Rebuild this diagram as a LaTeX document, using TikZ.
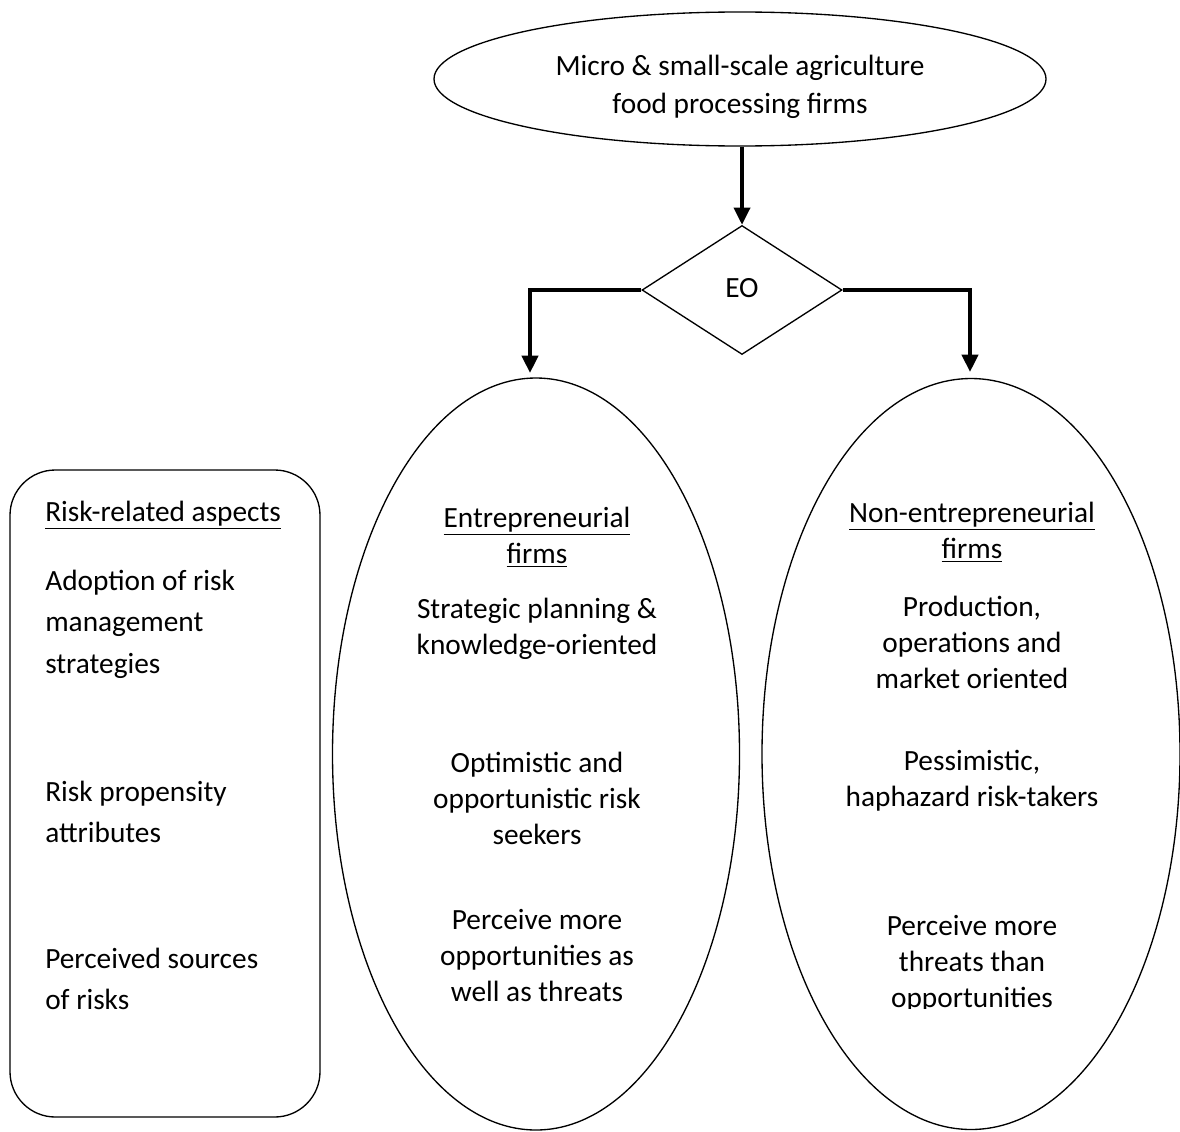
\documentclass[tikz,border=0pt]{standalone}
\usepackage{fontspec}
\setmainfont{Carlito}
\usetikzlibrary{shapes.geometric,arrows.meta}
\begin{document}
\begin{tikzpicture}[x=0.75pt,y=-0.75pt,
  outline/.style={draw=black,line width=1pt,inner sep=0pt},
  flow/.style={draw=black,line width=3pt,-{Triangle[length=13pt,width=12pt]}},
  txt/.style={align=center,inner sep=0pt,font=\fontsize{22}{27}\selectfont},
  lefttxt/.style={align=left,anchor=west,inner sep=0pt,font=\fontsize{22}{31}\selectfont}]
\useasboundingbox (0,0) rectangle (1180,1131);

% shapes
\node[outline,ellipse,minimum width=612*0.75pt,minimum height=134*0.75pt] (top) at (740,79) {};
\node[outline,diamond,minimum width=200*0.75pt,minimum height=129*0.75pt,aspect=1.55] (eo) at (742,290) {};
\node[txt] (eolabel) at (742,288) {EO};
\node[outline,ellipse,minimum width=407*0.75pt,minimum height=752*0.75pt] (ent) at (536,754) {};
\node[outline,ellipse,minimum width=418*0.75pt,minimum height=751*0.75pt] (non) at (971,754) {};
\draw[line width=1pt,rounded corners=34pt] (10,470) rectangle (320,1117);

% arrow ends just above the two lower ellipses
\coordinate (entin) at (530,373);
\coordinate (nonin) at (970,372);

% connectors
\draw[flow] (top.south -| eo.north) -- (eo.north);
\draw[flow] (eo.west) -| (entin);
\draw[flow] (eo.east) -| (nonin);

% top ellipse text
\node[txt,font=\fontsize{22}{29}\selectfont] (toptext) at (740,87) {Micro \& small-scale agriculture\\food processing firms};

% left panel
\node[lefttxt] (lhead) at (45,515) {\underline{Risk-related aspects}};
\node[lefttxt] (l1) at (45,624) {Adoption of risk\\management\\strategies};
\node[lefttxt] (l2) at (45,812) {Risk propensity\\attributes};
\node[lefttxt] (l3) at (45,979) {Perceived sources\\of risks};

% entrepreneurial firms
\node[txt] (ehead) at (537,537) {\underline{Entrepreneurial}\\\underline{firms}};
\node[txt] (e1) at (537,629) {Strategic planning \&\\knowledge-oriented};
\node[txt] (e2) at (537,798) {Optimistic and\\opportunistic risk\\seekers};
\node[txt] (e3) at (537,956) {Perceive more\\opportunities as\\well as threats};

% non-entrepreneurial firms
\node[txt] (nhead) at (972,532) {\underline{Non-entrepreneurial}\\\underline{firms}};
\node[txt] (n1) at (972,642) {Production,\\operations and\\market oriented};
\node[txt] (n2) at (972,781) {Pessimistic,\\haphazard risk-takers};
% last block is cut off at the bottom of its text frame
\begin{scope}
  \clip (800,880) rectangle (1140,1008);
  \node[txt] (n3) at (972,964) {Perceive more\\threats than\\opportunities};
\end{scope}
\end{tikzpicture}
\end{document}
